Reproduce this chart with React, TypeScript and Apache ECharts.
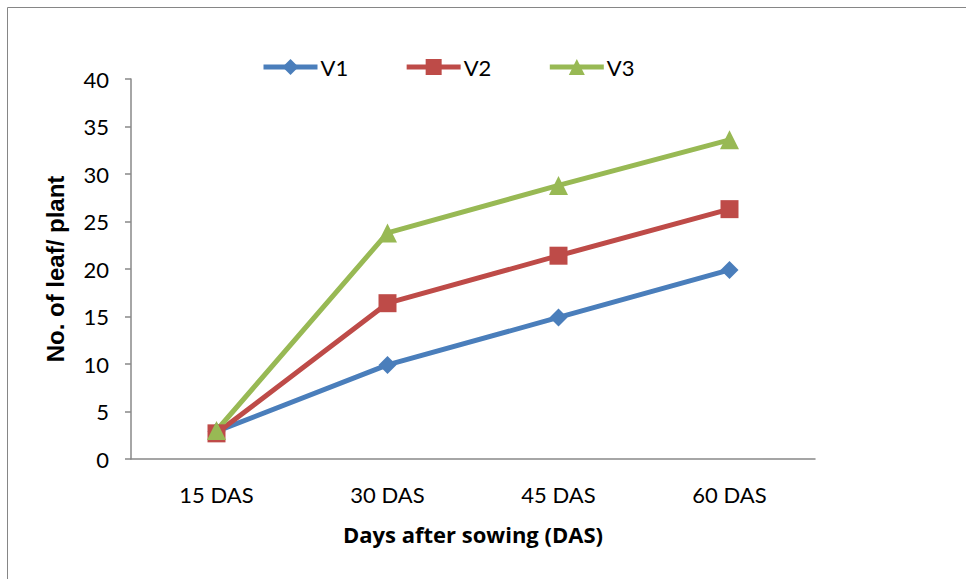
import React, { useEffect, useRef } from "react";
import * as echarts from "echarts";

const categories = ["15 DAS", "30 DAS", "45 DAS", "60 DAS"];
const v1 = [2.9, 9.9, 14.9, 19.9];
const v2 = [2.7, 16.4, 21.4, 26.3];
const v3 = [3.0, 23.8, 28.8, 33.6];
const yTitle = "No. of leaf/ plant";
const xTitle = "Days after sowing (DAS)";

const FONT = "Lato";

export default function App() {
  const ref = useRef<HTMLDivElement>(null);
  useEffect(() => {
    if (!ref.current) return;
    const chart = echarts.init(ref.current, undefined, { renderer: "svg" });
    const mk = (name: string, data: number[], color: string, symbol: string, size: number) => ({
      name,
      type: "line",
      data,
      symbol,
      symbolSize: size,
      showSymbol: true,
      lineStyle: { color, width: 5 },
      itemStyle: { color },
      z: 2,
    });
    chart.setOption({
      animation: false,
      backgroundColor: "#ffffff",
      graphic: [
        {
          type: "rect",
          shape: { x: 7.5, y: 7.5, width: 1200, height: 1200 },
          style: { fill: "none", stroke: "#868686", lineWidth: 1 },
          silent: true,
        },
      ],
      legend: {
        left: 256,
        top: 51,
        itemWidth: 54,
        itemHeight: 20,
        itemGap: 56,
        lineStyle: { width: 5 },
        textStyle: { fontFamily: FONT, fontSize: 22, color: "#000", padding: [0, 0, 0, -2] },
        data: ["V1", "V2", "V3"],
      },
      grid: { left: 131, top: 79, right: 151, bottom: 120 },
      xAxis: {
        type: "category",
        data: categories,
        boundaryGap: true,
        axisLine: { lineStyle: { color: "#888888", width: 1.5 } },
        axisTick: { show: false },
        axisLabel: { fontFamily: FONT, fontSize: 22, color: "#000", margin: 24 },
        name: xTitle,
        nameLocation: "middle",
        nameGap: 64,
        nameTextStyle: { fontFamily: "Open Sans", fontSize: 22, fontWeight: "bold", color: "#000" },
      },
      yAxis: {
        type: "value",
        min: 0,
        max: 40,
        interval: 5,
        splitLine: { show: false },
        axisLine: { show: true, lineStyle: { color: "#888888", width: 1.5 } },
        axisTick: { show: true, length: 6, lineStyle: { color: "#888888", width: 1.5 } },
        axisLabel: { fontFamily: FONT, fontSize: 22, color: "#000", margin: 22 },
        name: yTitle,
        nameLocation: "middle",
        nameGap: 64,
        nameRotate: 90,
        nameTextStyle: { fontFamily: "Liberation Sans", fontSize: 24, fontWeight: "bold", color: "#000" },
      },
      series: [
        mk("V1", v1, "#4A7EBB", "diamond", 18),
        mk("V2", v2, "#BE4B48", "rect", 18),
        mk("V3", v3, "#98B954", "triangle", 19),
      ],
    });
    return () => chart.dispose();
  }, []);
  return (
    <div
      ref={ref}
      style={{ position: "fixed", left: 0, top: 0, width: 966, height: 579, background: "#fff" }}
    />
  );
}
